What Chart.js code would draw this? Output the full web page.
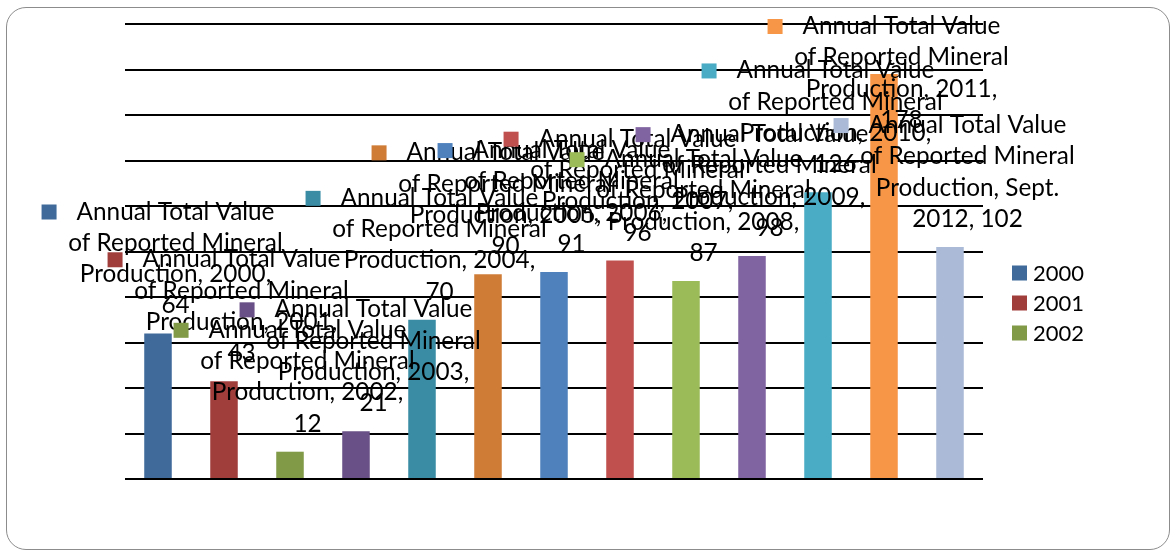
<!DOCTYPE html>
<html><head><meta charset="utf-8">
<script src="https://cdn.jsdelivr.net/npm/chart.js@4"></script>
<style>
html,body{margin:0;padding:0;background:#fff;overflow:hidden}
#wrap{position:relative;width:1176px;height:554px;}
#frame{position:absolute;left:6px;top:7px;width:1164px;height:543px;border:1.5px solid #8c8c8c;border-radius:20px;box-sizing:border-box;pointer-events:none}
canvas{position:absolute;left:0;top:0}
</style></head><body>
<div id="wrap"><canvas id="c" width="1176" height="554"></canvas><div id="frame"></div></div>
<script>
const seriesName = "Annual Total Value of Reported Mineral Production";
const categories = ["2000","2001","2002","2003","2004","2005","2006","2007","2008","2009","2010","2011","Sept. 2012"];
const values = [64,43,12,21,70,90,91,96,87,98,126,178,102];
const barColors = ["#3F6A9A","#A03E3C","#809A48","#695086","#3A8CA5","#CF7C37","#4F81BD","#C0504D","#9BBB59","#8064A2","#4BACC6","#F79646","#AABAD7"];
const legendLabels = ["2000","2001","2002"];
const yMin = 0, yMax = 200, yStep = 20;

const FONT_FAMILY = "Lato, 'Open Sans', sans-serif";
function fitSize(ctx, text, target, family){
  ctx.font = "20px " + family;
  return 20 * target / ctx.measureText(text).width;
}
function wrap(ctx, text, maxW){
  const words = text.split(' ');
  const lines = []; let cur = '';
  for (const w of words){
    const t = cur ? cur + ' ' + w : w;
    if (cur && ctx.measureText(t).width > maxW){ lines.push(cur); cur = w; }
    else cur = t;
  }
  if (cur) lines.push(cur);
  return lines;
}

const excelLabels = {
  id: 'excelLabels',
  afterDatasetsDraw(chart){
    const ctx = chart.ctx;
    const meta = chart.getDatasetMeta(0);
    const area = chart.chartArea;
    const size = fitSize(ctx, "Annual Total Value", 198, FONT_FAMILY);
    ctx.save();
    ctx.font = size + "px " + FONT_FAMILY;
    const maxW = ctx.measureText("of Reported Mineral").width + 1;
    const lineH = 31.3, key = 15, gap = 20, capHalf = 7;
    meta.data.forEach((bar, i) => {
      const text = seriesName + ", " + categories[i] + ", " + values[i];
      const lines = wrap(ctx, text, maxW);
      const cx = bar.x + (key + gap) / 2;
      let last = bar.y - 27;
      let first = last - (lines.length - 1) * lineH;
      if (first < area.top + 3) { first = area.top + 3; last = first + (lines.length - 1) * lineH; }
      ctx.fillStyle = "#000";
      ctx.textAlign = "center";
      ctx.textBaseline = "alphabetic";
      lines.forEach((ln, k) => ctx.fillText(ln, cx, first + k * lineH + capHalf));
      const w0 = ctx.measureText(lines[0]).width;
      ctx.fillStyle = barColors[i];
      ctx.fillRect(cx - w0 / 2 - gap - key, first - key / 2 - 0.5, key, key);
    });
    // legend
    const lsize = fitSize(ctx, "2000", 51, FONT_FAMILY);
    ctx.font = lsize + "px " + FONT_FAMILY;
    ctx.textAlign = "left";
    legendLabels.forEach((lb, k) => {
      const y = area.top + 249 + k * 30;
      ctx.fillStyle = barColors[k];
      ctx.fillRect(area.right + 29, y - 7.5, key, key);
      ctx.fillStyle = "#000";
      ctx.fillText(lb, area.right + 50, y + 8);
    });
    ctx.restore();
  }
};

new Chart(document.getElementById('c'), {
  type: 'bar',
  data: {
    labels: categories,
    datasets: [{ label: seriesName, data: values, backgroundColor: barColors, borderWidth: 0,
      categoryPercentage: 1, barPercentage: 0.417 }]
  },
  options: {
    responsive: false, animation: false, devicePixelRatio: 1,
    layout: { padding: { left: 125, right: 193, top: 24, bottom: 75 } },
    plugins: { legend: { display: false }, tooltip: { enabled: false } },
    scales: {
      x: { display: false },
      y: { min: yMin, max: yMax, ticks: { display: false, stepSize: yStep },
        border: { display: false },
        grid: { color: "#000", lineWidth: 2, drawTicks: false } }
    }
  },
  plugins: [excelLabels]
});
</script>
</body></html>
